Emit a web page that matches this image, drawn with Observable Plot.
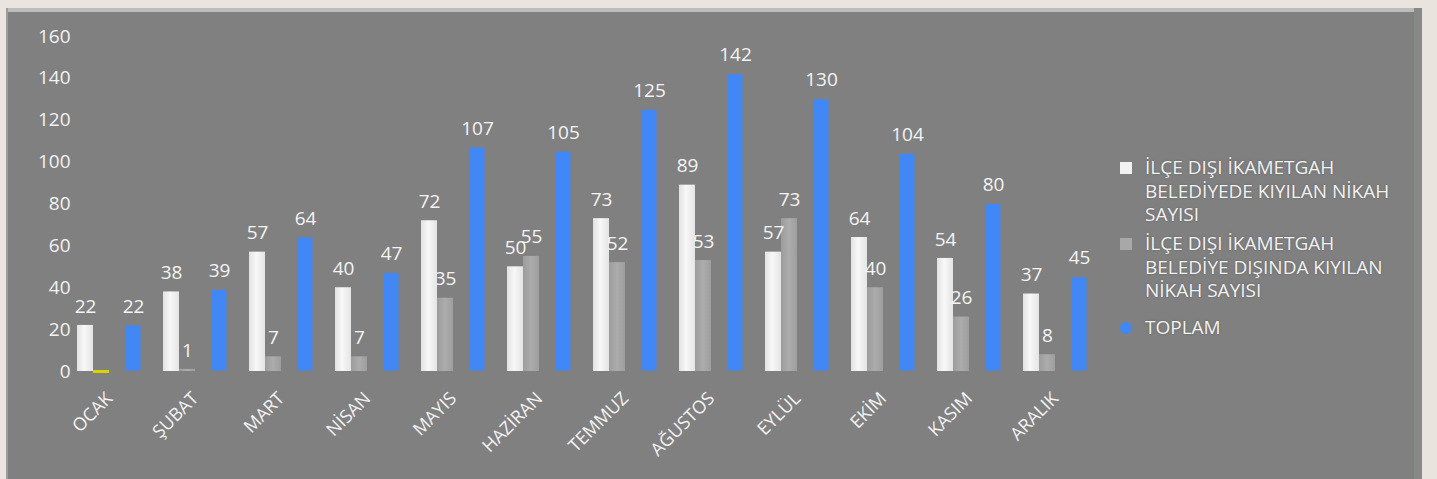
<!DOCTYPE html>
<html>
<head>
<meta charset="utf-8">
<script src="https://cdn.jsdelivr.net/npm/d3@7"></script>
<script src="https://cdn.jsdelivr.net/npm/@observablehq/plot@0.6"></script>
<style>
  html, body { margin: 0; padding: 0; background: #e9e5de; width: 1437px; height: 479px; overflow: hidden; }
  #panel { position: absolute; left: 6px; top: 8px; width: 1416px; height: 471px; background: #808080; overflow: hidden; }
  #topline { position: absolute; left: 0; top: 0; width: 1416px; height: 4px; background: #bdbdbd; }
  #leftline { position: absolute; left: 0; top: 0; width: 2px; height: 471px; background: #9c9c9c; }
  #rightline { position: absolute; right: 0; top: 0; width: 8px; height: 471px; background: #888888; }
  #chart { position: absolute; left: 0; top: 0; }
  .item { position: absolute; left: 1114px; font-family: "Open Sans", sans-serif; font-size: 19px; line-height: 23.5px; color: #f2f2f2; white-space: nowrap; text-shadow: 0 0 2px rgba(60,60,60,0.5); }
  .item .txt { position: absolute; left: 25px; top: 0; }
  .item .mk { position: absolute; left: 0; top: 6px; width: 12px; height: 12px; }
</style>
</head>
<body>
<div id="panel">
  <div id="topline"></div>
  <div id="leftline"></div>
  <div id="rightline"></div>
  <div id="chart"></div>
  <div id="legend"></div>
</div>
<script>
const months = ["OCAK","ŞUBAT","MART","NİSAN","MAYIS","HAZİRAN","TEMMUZ","AĞUSTOS","EYLÜL","EKİM","KASIM","ARALIK"];
const belediyede = [22,38,57,40,72,50,73,89,57,64,54,37];
const belediyeDisinda = [0,1,7,7,35,55,52,53,73,40,26,8];
const toplam = [22,39,64,47,107,105,125,142,130,104,80,45];
const yTicks = [0,20,40,60,80,100,120,140,160];
const seriesNames = [
  "İLÇE DIŞI İKAMETGAH<br>BELEDİYEDE KIYILAN NİKAH<br>SAYISI",
  "İLÇE DIŞI İKAMETGAH<br>BELEDİYE DIŞINDA KIYILAN<br>NİKAH SAYISI",
  "TOPLAM"
];

const rows = [];
months.forEach((m, i) => {
  rows.push({month: m, key: "w", value: belediyede[i]});
  rows.push({month: m, key: "g", value: belediyeDisinda[i]});
  rows.push({month: m, key: "b", value: toplam[i]});
});

const chart = Plot.plot({
  width: 1416,
  height: 471,
  marginLeft: 47,
  marginRight: 311,
  marginTop: 28,
  marginBottom: 108,
  style: {background: "transparent", fontFamily: "Open Sans, sans-serif", color: "#f2f2f2", fontSize: "19px", overflow: "visible"},
  fx: {domain: months, paddingInner: 0.26, paddingOuter: 0.26, align: 0.5, label: null},
  x: {domain: ["w","g","sp","b"], padding: 0, axis: null},
  y: {domain: [0,160], label: null},
  marks: [
    Plot.axisY({ticks: yTicks, tickSize: 0, tickPadding: 7, fontSize: 19, label: null, fill: "#f2f2f2"}),
    Plot.axisFx({anchor: "bottom", tickSize: 0, tickRotate: -45, tickPadding: 24, fontSize: 18, label: null, fill: "#f2f2f2"}),
    Plot.barY(rows.filter(d => d.key === "w"), {fx: "month", x: "key", y: "value", fill: "url(#gw)"}),
    Plot.barY(rows.filter(d => d.key === "g"), {fx: "month", x: "key", y: "value", fill: "url(#gg)"}),
    Plot.barY(rows.filter(d => d.key === "b"), {fx: "month", x: "key", y: "value", fill: "#4187f5", inset: 0.5}),
    Plot.tickY(rows.filter(d => d.key === "g" && d.value === 0), {fx: "month", x: "key", y: "value", stroke: "#d8d400", strokeWidth: 3}),
    Plot.text(rows.filter(d => d.value > 0), {fx: "month", x: "key", y: "value", text: d => String(d.value), dy: -19, fill: "#f4f4f4", fontSize: 19})
  ]
});

const defs = document.createElementNS("http://www.w3.org/2000/svg", "defs");
defs.innerHTML = `
  <linearGradient id="gw" x1="0" y1="0" x2="1" y2="0">
    <stop offset="0" stop-color="#e2e2e2"/>
    <stop offset="0.45" stop-color="#f8f8f8"/>
    <stop offset="1" stop-color="#e4e4e4"/>
  </linearGradient>
  <linearGradient id="gg" x1="0" y1="0" x2="1" y2="0">
    <stop offset="0" stop-color="#9c9c9c"/>
    <stop offset="0.5" stop-color="#acacac"/>
    <stop offset="1" stop-color="#9e9e9e"/>
  </linearGradient>`;
chart.insertBefore(defs, chart.firstChild);
document.getElementById("chart").appendChild(chart);

const legend = document.getElementById("legend");
const tops = [148, 224, 308];
const markers = [
  "background:#f2f2f2;",
  "background:#a8a8a8;",
  "background:#4187f5;border-radius:50%;"
];
seriesNames.forEach((name, i) => {
  const div = document.createElement("div");
  div.className = "item";
  div.style.top = tops[i] + "px";
  div.innerHTML = `<div class="mk" style="${markers[i]}"></div><div class="txt">${name}</div>`;
  legend.appendChild(div);
});
</script>
</body>
</html>
